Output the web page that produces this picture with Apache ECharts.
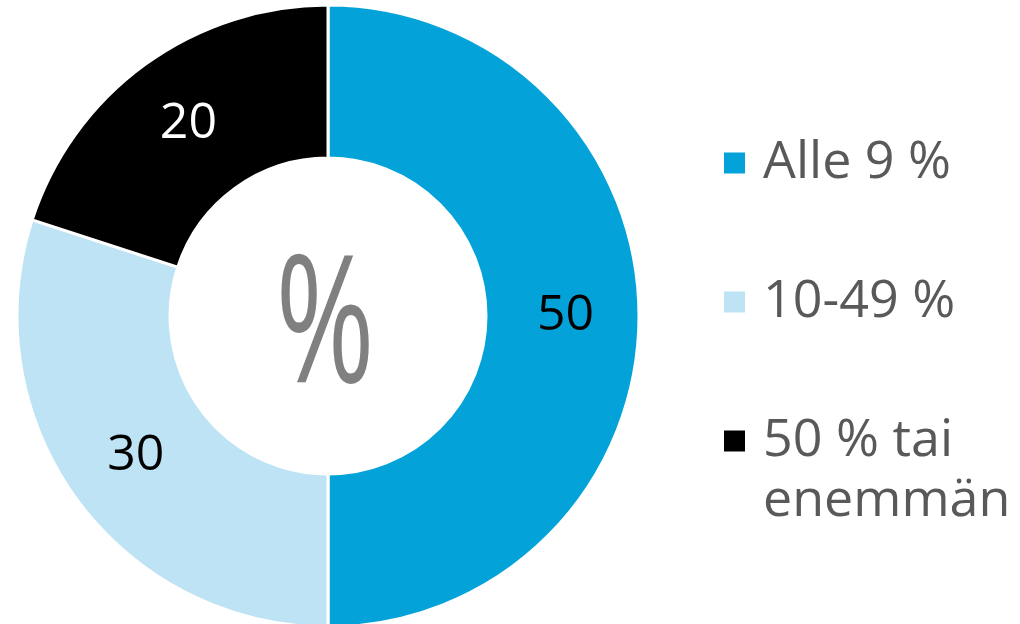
<!DOCTYPE html>
<html>
<head>
<meta charset="utf-8">
<script src="https://cdn.jsdelivr.net/npm/echarts@6/dist/echarts.min.js"></script>
<style>
html,body{margin:0;padding:0;background:#fff;}
#chart{width:1020px;height:624px;}
</style>
</head>
<body>
<div id="chart"></div>
<script>
const categories = ['Alle 9 %', '10-49 %', '50 % tai\nenemmän'];
const values = [50, 30, 20];
const colors = ['#03A3DA', '#BDE3F5', '#000000'];
const labelColors = ['#000000', '#000000', '#FFFFFF'];
const centerText = '%';

const chart = echarts.init(document.getElementById('chart'));
const data = categories.map((c, i) => ({
  name: c,
  value: values[i],
  itemStyle: { color: colors[i] },
  label: { color: labelColors[i] }
}));

chart.setOption({
  animation: false,
  legend: {
    orient: 'vertical',
    left: 722,
    top: 73,
    height: 900,
    width: 290,
    padding: 0,
    itemWidth: 23,
    itemHeight: 23,
    itemGap: -41,
    icon: 'rect',
    selectedMode: false,
    formatter: function (name) {
      // keep the icon on the first text line: pad every item to three lines
      const lines = name.split('\n');
      return lines.length > 1 ? '\n' + name : '\n' + name + '\n';
    },
    textStyle: {
      fontFamily: 'Open Sans',
      fontSize: 52,
      color: '#595959',
      lineHeight: 60,
      padding: [0, 0, 0, 12]
    },
    data: categories
  },
  graphic: [{
    type: 'text',
    x: 325,
    y: 331,
    scaleX: 0.8,
    scaleY: 1.19,
    style: {
      text: centerText,
      fontFamily: 'Open Sans',
      fontSize: 150,
      fill: '#808080',
      align: 'center',
      verticalAlign: 'middle'
    }
  }],
  series: [{
    type: 'pie',
    center: [328, 316],
    radius: [158, 311],
    startAngle: 90,
    clockwise: true,
    avoidLabelOverlap: false,
    itemStyle: { borderColor: '#ffffff', borderWidth: 3 },
    label: {
      show: true,
      position: 'inside',
      fontFamily: 'Open Sans',
      fontSize: 50,
      formatter: '{c}'
    },
    labelLine: { show: false },
    emphasis: { disabled: true },
    data: data
  }]
});
</script>
</body>
</html>
